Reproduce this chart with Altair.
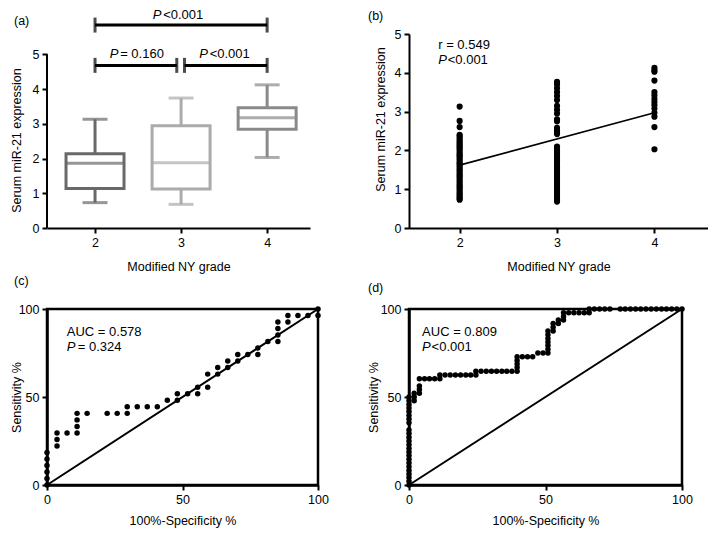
import altair as alt
import pandas as pd

FONT = "Liberation Sans"
FS = 12.5
TS = 13
NBSP = "\u00a0"

# ---------------- (a) box-plot summaries ----------------
grades = [2, 3, 4]
box_min = [0.73, 0.68, 2.03]
box_q1 = [1.14, 1.12, 2.84]
box_med = [1.86, 1.88, 3.17]
box_q3 = [2.14, 2.94, 3.46]
box_max = [3.13, 3.74, 4.12]
box_colors = ["#696969", "#ababab", "#8a8a8a"]

cmp_start = [2.0, 2.0, 3.04]
cmp_end = [4.0, 2.95, 4.0]
cmp_level = [5.84, 4.68, 4.68]
cmp_text = ["<0.001", NBSP + "= 0.160", "<0.001"]
cmp_text_x = [2.67, 2.17, 3.21]
cmp_text_y = [6.14, 5.02, 5.02]

# ---------------- (b) scatter ----------------
b_grade2 = [0.73, 0.76, 0.8, 0.84, 0.88, 0.92, 0.97, 1.02, 1.06, 1.1, 1.15, 1.2,
            1.25, 1.3, 1.34, 1.38, 1.43, 1.48, 1.52, 1.57, 1.62, 1.66, 1.7, 1.75,
            1.8, 1.85, 1.88, 1.92, 1.97, 2.02, 2.06, 2.1, 2.14, 2.18, 2.22, 2.27,
            2.32, 2.37, 2.4, 2.6, 2.76, 3.13]
b_grade3 = [3.77, 3.7, 3.6, 3.5, 3.4, 3.3, 3.15, 3.05, 2.95, 2.8, 2.75, 2.58, 2.52,
            2.47, 2.42, 2.1, 2.05, 1.98, 1.92, 1.86, 1.8, 1.74, 1.68, 1.62, 1.56,
            1.5, 1.44, 1.38, 1.32, 1.26, 1.2, 1.14, 1.08, 1.02, 0.96, 0.9, 0.84,
            0.78, 0.72, 0.68]
b_grade4 = [4.13, 4.07, 4.03, 3.8, 3.5, 3.42, 3.33, 3.25, 3.17, 3.08, 2.97, 2.87,
            2.6, 2.03]
reg_x = [2, 4]
reg_y = [1.62, 2.97]

# ---------------- (c) ROC (100-specificity, sensitivity) ----------------
c_fpr = [0, 0, 0, 0, 0, 0, 3.7, 3.7, 3.7, 7.4, 11.1, 11.1, 11.1, 11.1, 14.8, 22.2,
         25.9, 29.6, 29.6, 33.3, 37.0, 40.7, 44.4, 48.1, 48.1, 51.9, 55.6, 55.6,
         59.3, 59.3, 63.0, 63.0, 66.7, 66.7, 70.4, 70.4, 74.1, 77.8, 77.8, 81.5,
         85.2, 85.2, 85.2, 85.2, 88.9, 88.9, 92.6, 96.3, 100, 100]
c_sens = [0, 3.7, 7.4, 11.1, 14.8, 18.5, 22.2, 25.9, 29.6, 29.6, 29.6, 33.3, 37.0,
          40.7, 40.7, 40.7, 40.7, 40.7, 44.4, 44.4, 44.4, 44.4, 48.1, 48.1, 51.9,
          51.9, 51.9, 55.6, 55.6, 63.0, 63.0, 66.7, 66.7, 70.4, 70.4, 74.1, 74.1,
          74.1, 77.8, 81.5, 81.5, 85.2, 88.9, 92.6, 92.6, 96.3, 96.3, 96.3, 96.3, 100]

# ---------------- (d) ROC points as (100-specificity, sensitivity) ----------------
d_points = [
    (0, 0), (0, 2.1), (0, 4.2), (0, 6.3), (0, 8.3), (0, 10.4), (0, 12.5), (0, 14.6),
    (0, 16.7), (0, 18.8), (0, 20.8), (0, 22.9), (0, 25.0), (0, 27.1), (0, 29.2),
    (0, 31.3), (0, 35.4), (0, 37.5), (0, 39.6), (0, 41.7), (0, 43.8), (0, 45.8),
    (0, 47.9), (0, 50.0),
    (1.9, 47.9), (1.9, 50.0), (1.9, 52.1), (3.8, 52.1), (3.8, 54.2), (3.8, 56.3),
    (3.8, 60.4), (5.7, 60.4), (7.5, 60.4), (9.4, 60.4), (11.3, 60.4),
    (11.3, 62.5), (13.2, 62.5), (15.1, 62.5), (17.0, 62.5), (18.9, 62.5),
    (20.8, 62.5), (22.6, 62.5), (24.5, 62.5),
    (24.5, 64.6), (26.4, 64.6), (28.3, 64.6), (30.2, 64.6), (32.1, 64.6),
    (34.0, 64.6), (35.8, 64.6), (37.7, 64.6), (39.6, 64.6),
    (39.6, 66.7), (39.6, 68.8), (39.6, 70.8), (39.6, 72.9),
    (41.5, 72.9), (43.4, 72.9), (45.3, 72.9), (47.2, 75.0), (49.1, 75.0),
    (50.9, 75.0), (50.9, 77.1), (50.9, 79.2), (50.9, 81.3), (50.9, 83.3),
    (50.9, 85.4), (50.9, 87.5), (52.8, 87.5), (52.8, 89.6), (52.8, 91.7),
    (54.7, 91.7), (54.7, 93.8), (56.6, 93.8), (56.6, 95.8), (56.6, 97.9),
    (58.5, 97.9), (60.4, 97.9), (62.3, 97.9), (64.2, 97.9), (66.0, 97.9),
    (66.0, 100), (67.9, 100), (69.8, 100), (71.7, 100), (73.6, 100),
    (77.4, 100), (79.2, 100), (81.1, 100), (83.0, 100), (84.9, 100), (86.8, 100),
    (88.7, 100), (90.6, 100), (92.5, 100), (94.3, 100), (96.2, 100), (98.1, 100),
    (100, 100),
]
d_fpr = [p[0] for p in d_points]
d_sens = [p[1] for p in d_points]
diag = [0, 100]

AX = dict(labelOverlap=False, labelFlush=False, tickCount=12)


def panel_title(text, dx, dy):
    return alt.TitleParams(text, anchor="start", frame="group", offset=0,
                           dx=dx, dy=dy, fontSize=FS, font=FONT,
                           fontWeight="normal", color="black")


# =====================================================================
# Panel (a)
df_box = pd.DataFrame({"grade": grades, "lo": box_min, "q1": box_q1,
                       "med": box_med, "q3": box_q3, "hi": box_max})
xa_scale = alt.Scale(domain=[1.5, 4.44], nice=False, zero=False)
ya_scale = alt.Scale(domain=[0, 5.583], nice=False, zero=False)
xa = alt.X("grade:Q", scale=xa_scale,
           axis=alt.Axis(values=[2, 3, 4], format="d", title="Modified NY grade",
                         titlePadding=12, **AX))
stroke_enc = alt.Stroke("grade:N", scale=alt.Scale(domain=grades, range=box_colors),
                        legend=None)
color_enc = alt.Color("grade:N", scale=alt.Scale(domain=grades, range=box_colors),
                      legend=None)

base_a = alt.Chart(df_box)
a_wlo = base_a.mark_rule(strokeWidth=3).encode(
    x=xa,
    y=alt.Y("lo:Q", scale=ya_scale,
            axis=alt.Axis(values=[0, 1, 2, 3, 4, 5], format="d", domain=False,
                          title="Serum miR-21 expression", titleX=-24, titleY=106,
                          **AX)),
    y2="q1:Q", stroke=stroke_enc)
a_whi = base_a.mark_rule(strokeWidth=3).encode(
    x=alt.X("grade:Q", scale=xa_scale), y=alt.Y("q3:Q", scale=ya_scale), y2="hi:Q",
    stroke=stroke_enc)
a_box = base_a.mark_bar(size=58, fillOpacity=0, strokeWidth=3).encode(
    x=alt.X("grade:Q", scale=xa_scale), y=alt.Y("q1:Q", scale=ya_scale), y2="q3:Q",
    stroke=stroke_enc)
a_med = base_a.mark_tick(orient="horizontal", size=60, thickness=3).encode(
    x=alt.X("grade:Q", scale=xa_scale), y=alt.Y("med:Q", scale=ya_scale), color=color_enc)
a_caplo = base_a.mark_tick(orient="horizontal", size=25, thickness=3).encode(
    x=alt.X("grade:Q", scale=xa_scale), y=alt.Y("lo:Q", scale=ya_scale), color=color_enc)
a_caphi = base_a.mark_tick(orient="horizontal", size=25, thickness=3).encode(
    x=alt.X("grade:Q", scale=xa_scale), y=alt.Y("hi:Q", scale=ya_scale), color=color_enc)

a_axisline = alt.Chart(pd.DataFrame({"y0": [0], "y1": [5]})).mark_rule(
    strokeWidth=2, color="black").encode(
    x=alt.value(0), y=alt.Y("y0:Q", scale=ya_scale), y2="y1:Q")

df_cmp = pd.DataFrame({"x1": cmp_start, "x2": cmp_end, "y": cmp_level})
a_br = alt.Chart(df_cmp).mark_rule(strokeWidth=3, color="black").encode(
    x=alt.X("x1:Q", scale=xa_scale), x2="x2:Q", y=alt.Y("y:Q", scale=ya_scale))
df_ends = pd.DataFrame({"x": cmp_start + cmp_end, "y": cmp_level + cmp_level})
a_ends = alt.Chart(df_ends).mark_tick(orient="vertical", size=15, thickness=3,
                                      color="black").encode(
    x=alt.X("x:Q", scale=xa_scale), y=alt.Y("y:Q", scale=ya_scale))
df_lab = pd.DataFrame({"x": cmp_text_x, "y": cmp_text_y, "rest": cmp_text})
a_p = alt.Chart(df_lab).mark_text(text="P", fontStyle="italic", align="left",
                                  baseline="middle", fontSize=TS, font=FONT,
                                  color="black").encode(
    x=alt.X("x:Q", scale=xa_scale), y=alt.Y("y:Q", scale=ya_scale))
a_rest = alt.Chart(df_lab).mark_text(align="left", baseline="middle", dx=10.5,
                                     fontSize=TS, font=FONT, color="black").encode(
    x=alt.X("x:Q", scale=xa_scale), y=alt.Y("y:Q", scale=ya_scale), text="rest:N")

panel_a = alt.layer(a_wlo, a_whi, a_box, a_med, a_caplo, a_caphi, a_axisline,
                    a_br, a_ends, a_p, a_rest).properties(
    width=263, height=194, title=panel_title("(a)", -33, 19))

# =====================================================================
# Panel (b)
df_b = pd.DataFrame({
    "grade": [2] * len(b_grade2) + [3] * len(b_grade3) + [4] * len(b_grade4),
    "val": b_grade2 + b_grade3 + b_grade4})
xb_scale = alt.Scale(domain=[1.48, 4.55], nice=False, zero=False)
yb_scale = alt.Scale(domain=[0, 5], nice=False, zero=False)
b_pts = alt.Chart(df_b).mark_circle(size=38, color="black", opacity=1).encode(
    x=alt.X("grade:Q", scale=xb_scale,
            axis=alt.Axis(values=[2, 3, 4], format="d", title="Modified NY grade",
                          titlePadding=12, **AX)),
    y=alt.Y("val:Q", scale=yb_scale,
            axis=alt.Axis(values=[0, 1, 2, 3, 4, 5], format="d",
                          title="Serum miR-21 expression",
                          titleX=-22, titleY=85, **AX)))
b_reg = alt.Chart(pd.DataFrame({"x": reg_x, "y": reg_y})).mark_line(
    color="black", strokeWidth=1.6).encode(
    x=alt.X("x:Q", scale=xb_scale), y=alt.Y("y:Q", scale=yb_scale))
b_txt1 = alt.Chart(pd.DataFrame({"x": [1.78], "y": [4.71], "t": ["r = 0.549"]})).mark_text(
    align="left", baseline="middle", fontSize=TS, font=FONT, color="black").encode(
    x=alt.X("x:Q", scale=xb_scale), y=alt.Y("y:Q", scale=yb_scale), text="t:N")
df_bp = pd.DataFrame({"x": [1.78], "y": [4.33], "rest": ["<0.001"]})
b_p = alt.Chart(df_bp).mark_text(text="P", fontStyle="italic", align="left",
                                 baseline="middle", fontSize=TS, font=FONT,
                                 color="black").encode(
    x=alt.X("x:Q", scale=xb_scale), y=alt.Y("y:Q", scale=yb_scale))
b_rest = alt.Chart(df_bp).mark_text(align="left", baseline="middle", dx=9.5,
                                    fontSize=TS, font=FONT, color="black").encode(
    x=alt.X("x:Q", scale=xb_scale), y=alt.Y("y:Q", scale=yb_scale), text="rest:N")
panel_b = alt.layer(b_pts, b_reg, b_txt1, b_p, b_rest).properties(
    width=299, height=194, title=panel_title("(b)", -41, -6))

# =====================================================================
# ROC panels
roc_scale = alt.Scale(domain=[0, 100], nice=False, zero=False)


def roc_panel(fpr, sens, auc_text, p_rest, tx, title_x, pdx):
    df = pd.DataFrame({"fpr": fpr, "sens": sens})
    pts = alt.Chart(df).mark_circle(size=30, color="black", opacity=1).encode(
        x=alt.X("fpr:Q", scale=roc_scale,
                axis=alt.Axis(values=[0, 50, 100], title="100%-Specificity %",
                              titlePadding=9, domainWidth=2.5, **AX)),
        y=alt.Y("sens:Q", scale=roc_scale,
                axis=alt.Axis(values=[0, 50, 100], title="Sensitivity %",
                              titleX=title_x, domainWidth=2.5, **AX)))
    dg = alt.Chart(pd.DataFrame({"x": diag, "y": diag})).mark_line(
        color="black", strokeWidth=2).encode(
        x=alt.X("x:Q", scale=roc_scale), y=alt.Y("y:Q", scale=roc_scale))
    t1 = alt.Chart(pd.DataFrame({"x": [tx], "y": [87], "t": [auc_text]})).mark_text(
        align="left", baseline="middle", fontSize=TS, font=FONT, color="black").encode(
        x=alt.X("x:Q", scale=roc_scale), y=alt.Y("y:Q", scale=roc_scale), text="t:N")
    dfp = pd.DataFrame({"x": [tx], "y": [78.5], "rest": [p_rest]})
    tp = alt.Chart(dfp).mark_text(text="P", fontStyle="italic", align="left",
                                  baseline="middle", fontSize=TS, font=FONT,
                                  color="black").encode(
        x=alt.X("x:Q", scale=roc_scale), y=alt.Y("y:Q", scale=roc_scale))
    tr = alt.Chart(dfp).mark_text(align="left", baseline="middle", dx=pdx,
                                  fontSize=TS, font=FONT, color="black").encode(
        x=alt.X("x:Q", scale=roc_scale), y=alt.Y("y:Q", scale=roc_scale),
        text="rest:N")
    return alt.layer(pts, dg, t1, tp, tr)


panel_c = roc_panel(c_fpr, c_sens, "AUC = 0.578", "= 0.324", 7.3, -24, 11).properties(
    width=271, height=176,
    view=alt.ViewBackground(stroke="black", strokeWidth=2.5),
    title=panel_title("(c)", -33, -16))
panel_d = roc_panel(d_fpr, d_sens, "AUC = 0.809", "<0.001", 4.8, -29, 9.5).properties(
    width=273, height=176,
    view=alt.ViewBackground(stroke="black", strokeWidth=2.5),
    title=panel_title("(d)", -41, -9))

chart = alt.concat(panel_a, panel_b, panel_c, panel_d, columns=2,
                   spacing={"row": 81, "column": 91}, bounds="flush", align="each"
                   ).properties(
    padding={"left": 0, "top": 0, "right": 0, "bottom": 0}
).configure_view(stroke=None).configure_axis(
    labelFont=FONT, titleFont=FONT, labelFontSize=FS, titleFontSize=FS,
    titleFontWeight="normal", domainColor="black", tickColor="black",
    labelColor="black", titleColor="black", grid=False, tickSize=5,
    domainWidth=2, tickWidth=2, labelPadding=3, labelOverlap=False
)

chart.save("out.html", embed_options={"renderer": "svg", "actions": False})
